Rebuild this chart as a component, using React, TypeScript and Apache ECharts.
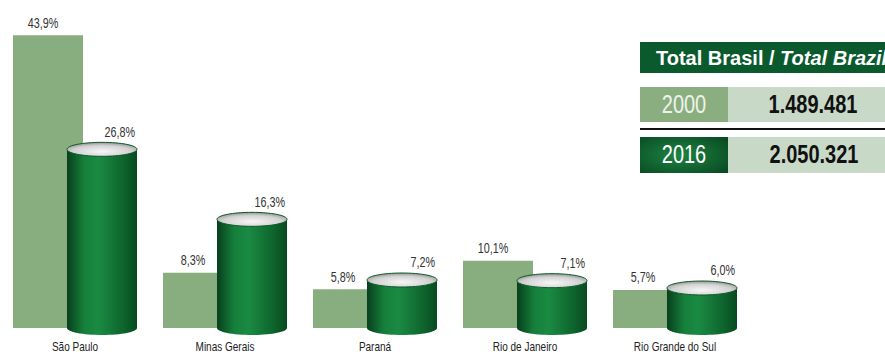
import React, { useEffect, useRef } from "react";
import * as echarts from "echarts";

const categories = ["São Paulo", "Minas Gerais", "Paraná", "Rio de Janeiro", "Rio Grande do Sul"];
const values2000 = [43.9, 8.3, 5.8, 10.1, 5.7];
const values2016 = [26.8, 16.3, 7.2, 7.1, 6.0];
const totalTitle = "Total Brasil / ";
const totalTitleEn = "Total Brazil";
const totalYears = ["2000", "2016"];
const totalValues = ["1.489.481", "2.050.321"];

const FONT = "'Liberation Sans', Arial, sans-serif";
const fmt = (v: number) => `${v.toFixed(1).replace(".", ",")}%`;

export default function App() {
  const ref = useRef<HTMLDivElement>(null);
  useEffect(() => {
    if (!ref.current) return;
    const chart = echarts.init(ref.current, null, { renderer: "svg" });
    const bodyGrad = new echarts.graphic.LinearGradient(0, 0, 1, 0, [
      { offset: 0, color: "#07401d" },
      { offset: 0.25, color: "#16803b" },
      { offset: 0.45, color: "#1a8a43" },
      { offset: 0.8, color: "#0e652d" },
      { offset: 1, color: "#084a20" },
    ]);
    const topGrad = new echarts.graphic.RadialGradient(0.5, 0.65, 0.7, [
      { offset: 0, color: "#f6f6f6" },
      { offset: 0.6, color: "#d2d2d2" },
      { offset: 1, color: "#858585" },
    ]);
    const OFF = 27;
    const narrowText = (x: number, y: number, text: string, align: string, size: number, extra: any = {}) => ({
      type: "text",
      x,
      y,
      scaleX: 0.77,
      style: { text, align, verticalAlign: "middle", fontFamily: FONT, fontSize: size, fill: "#333", ...extra },
    });
    chart.setOption({
      animation: false,
      grid: { left: 0, right: 135, top: 8, bottom: 26 },
      xAxis: {
        type: "category",
        data: categories,
        axisLine: { show: false },
        axisTick: { show: false },
        axisLabel: { show: false },
      },
      yAxis: { type: "value", min: 0, max: 48, show: false, splitLine: { show: false } },
      series: [
        {
          type: "bar",
          data: values2000,
          barWidth: 70,
          barGap: "-22.86%",
          itemStyle: { color: "#88ad7f" },
        },
        {
          type: "bar",
          data: values2016,
          barWidth: 70,
          itemStyle: { color: bodyGrad },
        },
        {
          type: "custom",
          data: values2000.map((v, i) => [i, v]),
          encode: { x: 0, y: 1 },
          clip: false,
          z: 4,
          renderItem: (params: any, api: any) => {
            const p = api.coord([api.value(0), api.value(1)]);
            const b = api.coord([api.value(0), 0]);
            return {
              type: "group",
              children: [
                narrowText(p[0] - OFF - 5, p[1] - 12, fmt(api.value(1)), "center", 14),
                narrowText(p[0], b[1] + 18, categories[params.dataIndex], "center", 13, { fill: "#222" }),
              ],
            };
          },
        },
        {
          type: "custom",
          data: values2016.map((v, i) => [i, v]),
          encode: { x: 0, y: 1 },
          clip: false,
          z: 3,
          renderItem: (params: any, api: any) => {
            const p = api.coord([api.value(0), api.value(1)]);
            const b = api.coord([api.value(0), 0]);
            const cx = p[0] + OFF;
            return {
              type: "group",
              children: [
                {
                  type: "ellipse",
                  shape: { cx, cy: b[1], rx: 35, ry: 7 },
                  style: { fill: bodyGrad },
                },
                {
                  type: "ellipse",
                  shape: { cx, cy: p[1], rx: 35, ry: 7 },
                  style: { fill: topGrad, stroke: "#0d5a28", lineWidth: 1 },
                },
                narrowText(cx + 33, p[1] - 17, fmt(api.value(1)), "right", 14),
              ],
            };
          },
        },
      ],
      graphic: [
        { type: "rect", shape: { x: 640, y: 42, width: 260, height: 31 }, style: { fill: "#0b5a2d" } },
        {
          type: "text",
          x: 656,
          y: 58,
          style: {
            text: `{a|${totalTitle}}{b|${totalTitleEn}}`,
            verticalAlign: "middle",
            fill: "#fff",
            rich: {
              a: { fontFamily: FONT, fontSize: 20, fontWeight: "bold", fill: "#fff" },
              b: { fontFamily: FONT, fontSize: 20, fontWeight: "bold", fontStyle: "italic", fill: "#fff" },
            },
          },
        },
        { type: "rect", shape: { x: 640, y: 87, width: 88, height: 35 }, style: { fill: "#8aae80" } },
        { type: "rect", shape: { x: 728, y: 87, width: 200, height: 35 }, style: { fill: "#c9d9c7" } },
        {
          type: "text",
          x: 684,
          y: 105,
          scaleX: 0.8,
          style: { text: totalYears[0], align: "center", verticalAlign: "middle", fontFamily: FONT, fontSize: 25, fill: "#eef3ea" },
        },
        {
          type: "text",
          x: 813,
          y: 105,
          scaleX: 0.8,
          style: { text: totalValues[0], align: "center", verticalAlign: "middle", fontFamily: FONT, fontSize: 25, fontWeight: "bold", fill: "#111" },
        },
        { type: "line", shape: { x1: 640, y1: 129, x2: 900, y2: 129 }, style: { stroke: "#111", lineWidth: 2 } },
        {
          type: "rect",
          shape: { x: 640, y: 137, width: 88, height: 36 },
          style: {
            fill: new echarts.graphic.RadialGradient(0.45, 0.5, 0.7, [
              { offset: 0, color: "#1f8443" },
              { offset: 1, color: "#084a22" },
            ]),
          },
        },
        { type: "rect", shape: { x: 728, y: 137, width: 200, height: 36 }, style: { fill: "#c9d9c7" } },
        {
          type: "text",
          x: 684,
          y: 155,
          scaleX: 0.8,
          style: { text: totalYears[1], align: "center", verticalAlign: "middle", fontFamily: FONT, fontSize: 25, fill: "#fff" },
        },
        {
          type: "text",
          x: 814,
          y: 155,
          scaleX: 0.8,
          style: { text: totalValues[1], align: "center", verticalAlign: "middle", fontFamily: FONT, fontSize: 25, fontWeight: "bold", fill: "#111" },
        },
      ],
    });
    return () => chart.dispose();
  }, []);
  return <div ref={ref} style={{ position: "absolute", left: 0, top: 0, width: 885, height: 354 }} />;
}
